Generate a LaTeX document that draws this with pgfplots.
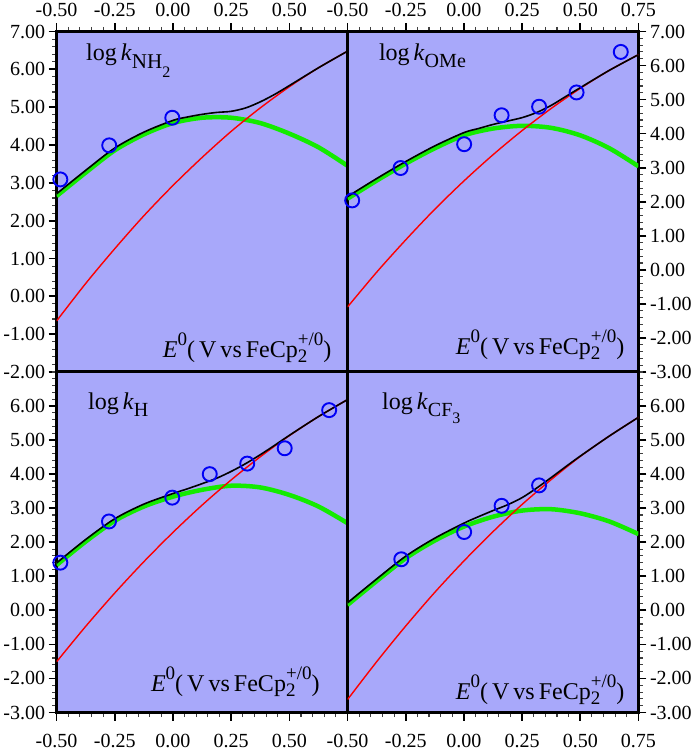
\documentclass[border=0pt]{standalone}
\usepackage{fontspec}
\setmainfont{Liberation Serif}
\usepackage{pgfplots}
\pgfplotsset{compat=1.18}
\definecolor{bgc}{RGB}{168,168,250}
\definecolor{grn}{RGB}{20,235,0}
\definecolor{blu}{RGB}{0,0,245}
\newcommand{\fs}[1]{\fontsize{#1}{#1}\selectfont}
\pgfplotsset{
  panel/.style={
    width=290.5pt, height=340pt, scale only axis,
    xmin=-0.5, xmax=0.75, ymax=7,
    axis background/.style={fill=bgc},
    axis line style={line width=3pt},
    xtick align=outside, ytick align=outside,
    major tick length=8pt, minor tick length=4.5pt,
    major tick style={line width=1.7pt, black},
    minor tick style={line width=1.1pt, black!75},
    minor xtick={-0.5,-0.45,...,0.76},
    tick label style={font=\fs{20}},
    /pgf/number format/fixed,
    /pgf/number format/fixed zerofill,
    /pgf/number format/precision=2,
    /pgf/number format/assume math mode=true,
    scaled ticks=false,
  },
  grnline/.style={grn, line width=4.5pt, smooth},
  redline/.style={red, line width=1.4pt, smooth},
  blkline/.style={black, line width=1.6pt, smooth},
  pts/.style={only marks, mark=o, mark size=7pt, blu, mark options={line width=1.9pt}},
}
\newcommand{\Elabel}{{\fs{24}\textit{E}\raisebox{12pt}{\fs{19}0}(\,V\,vs\,FeCp\rlap{\raisebox{-5pt}{\fs{19}2}}\raisebox{12pt}{\fs{19}+/0})}}
\begin{document}
\begin{tikzpicture}
% top-left: NH2
\begin{axis}[panel, at={(0pt,340pt)},
  xtick pos=right, xticklabel pos=right, xticklabel style={yshift=3pt},
  ymin=-2, xtick={-0.5,-0.25,0,0.25,0.5},
  ytick pos=left, ytick={-2,-1,...,7}, minor ytick={-2,-1.8,...,7.01}]
\addplot[grnline] coordinates {(-0.5,2.65) (-0.375,3.27) (-0.25,3.86) (-0.125,4.28) (0,4.58) (0.125,4.72) (0.25,4.72) (0.375,4.58) (0.5,4.30) (0.625,3.94) (0.75,3.45)};
\addplot[redline] coordinates {(-0.5,-0.65) (-0.375,0.34) (-0.25,1.26) (-0.125,2.13) (0,2.93) (0.125,3.67) (0.25,4.36) (0.375,4.98) (0.5,5.54) (0.625,6.04) (0.75,6.48)};
\addplot[blkline] coordinates {(-0.5,2.71) (-0.375,3.33) (-0.25,3.92) (-0.125,4.34) (0,4.65) (0.0625,4.74) (0.125,4.81) (0.1875,4.86) (0.25,4.89) (0.3125,4.98) (0.375,5.14) (0.4375,5.34) (0.5,5.57) (0.625,6.04) (0.75,6.48)};
\addplot[pts] coordinates {(-0.484,3.09) (-0.274,3.99) (-0.003,4.72)};
\node[anchor=base west, font=\fs{24}] at (rel axis cs:0.0895,0.915) {log\,\textit{k}\raisebox{-8pt}{\fs{21}NH\raisebox{-9pt}{\fs{16}2}}};
\node[anchor=base east] at (rel axis cs:0.957,0.043) {\Elabel};
\end{axis}
% top-right: OMe
\begin{axis}[panel, at={(290.5pt,340pt)},
  xtick pos=right, xticklabel pos=right, xticklabel style={yshift=3pt},
  ymin=-3, xtick={-0.5,-0.25,0,0.25,0.5,0.75},
  ytick pos=right, yticklabel pos=right, ytick={-3,-2,...,7}, minor ytick={-3,-2.8,...,7.01}]
\addplot[grnline] coordinates {(-0.5,2.09) (-0.375,2.62) (-0.25,3.12) (-0.125,3.57) (0,3.95) (0.125,4.15) (0.25,4.23) (0.375,4.17) (0.5,3.95) (0.625,3.57) (0.75,3.04)};
\addplot[redline] coordinates {(-0.5,-1.09) (-0.375,-0.07) (-0.25,0.88) (-0.125,1.78) (0,2.61) (0.125,3.38) (0.25,4.09) (0.375,4.74) (0.5,5.33) (0.625,5.86) (0.75,6.32)};
\addplot[blkline] coordinates {(-0.5,2.15) (-0.375,2.68) (-0.25,3.18) (-0.125,3.64) (0,4.03) (0.0625,4.15) (0.125,4.27) (0.1875,4.37) (0.25,4.47) (0.3125,4.62) (0.375,4.83) (0.4375,5.09) (0.5,5.35) (0.625,5.86) (0.75,6.32)};
\addplot[pts] coordinates {(-0.48,2.04) (-0.272,2.99) (0.001,3.69) (0.162,4.54) (0.323,4.79) (0.484,5.21) (0.674,6.40)};
\node[anchor=base west, font=\fs{24}] at (rel axis cs:0.096,0.915) {log\,\textit{k}\raisebox{-7pt}{\fs{20}OMe}};
\node[anchor=base east] at (rel axis cs:0.964,0.05) {\Elabel};
\end{axis}
% bottom-left: H
\begin{axis}[panel, at={(0pt,0pt)},
  xtick pos=left, xticklabel pos=left, xticklabel style={yshift=-10pt},
  ymin=-3, xtick={-0.5,-0.25,0,0.25,0.5},
  ytick pos=left, ytick={-3,-2,...,6}, minor ytick={-3,-2.8,...,7.01}]
\addplot[grnline] coordinates {(-0.5,1.33) (-0.375,2.02) (-0.25,2.63) (-0.125,3.05) (0,3.34) (0.125,3.54) (0.25,3.66) (0.375,3.61) (0.5,3.39) (0.625,3.05) (0.75,2.56)};
\addplot[redline] coordinates {(-0.5,-1.51) (-0.375,-0.47) (-0.25,0.51) (-0.125,1.43) (0,2.29) (0.125,3.09) (0.25,3.83) (0.375,4.51) (0.5,5.13) (0.625,5.69) (0.75,6.19)};
\addplot[blkline] coordinates {(-0.5,1.39) (-0.375,2.08) (-0.25,2.69) (-0.125,3.12) (0,3.43) (0.0625,3.57) (0.125,3.72) (0.1875,3.88) (0.25,4.08) (0.3125,4.31) (0.375,4.57) (0.4375,4.85) (0.5,5.14) (0.625,5.69) (0.75,6.19)};
\addplot[pts] coordinates {(-0.484,1.40) (-0.275,2.61) (-0.003,3.31) (0.158,4.00) (0.319,4.31) (0.48,4.76) (0.671,5.88)};
\node[anchor=base west, font=\fs{24}] at (rel axis cs:0.096,0.891) {log\,\textit{k}\raisebox{-7pt}{\fs{20}H}};
\node[anchor=base east] at (rel axis cs:0.916,0.062) {\Elabel};
\end{axis}
% bottom-right: CF3
\begin{axis}[panel, at={(290.5pt,0pt)},
  xtick pos=left, xticklabel pos=left, xticklabel style={yshift=-10pt},
  ymin=-3, xtick={-0.5,-0.25,0,0.25,0.5,0.75},
  ytick pos=right, yticklabel pos=right, ytick={-3,-2,...,6}, minor ytick={-3,-2.8,...,7.01}]
\addplot[grnline] coordinates {(-0.5,0.16) (-0.375,0.86) (-0.25,1.53) (-0.125,2.05) (0,2.46) (0.125,2.75) (0.25,2.93) (0.375,2.97) (0.5,2.85) (0.625,2.61) (0.75,2.24)};
\addplot[redline] coordinates {(-0.5,-2.62) (-0.375,-1.51) (-0.25,-0.46) (-0.125,0.53) (0,1.45) (0.125,2.31) (0.25,3.11) (0.375,3.84) (0.5,4.52) (0.625,5.12) (0.75,5.67)};
\addplot[blkline] coordinates {(-0.5,0.22) (-0.375,0.92) (-0.25,1.59) (-0.125,2.12) (0,2.56) (0.0625,2.75) (0.125,2.93) (0.1875,3.10) (0.25,3.31) (0.3125,3.59) (0.375,3.90) (0.4375,4.22) (0.5,4.53) (0.625,5.12) (0.75,5.67)};
\addplot[pts] coordinates {(-0.269,1.50) (0.001,2.30) (0.162,3.07) (0.323,3.67)};
\node[anchor=base west, font=\fs{24}] at (rel axis cs:0.107,0.891) {log\,\textit{k}\raisebox{-7pt}{\fs{20}CF\raisebox{-7pt}{\fs{16}3}}};
\node[anchor=base east] at (rel axis cs:0.964,0.038) {\Elabel};
\end{axis}
\end{tikzpicture}
\end{document}
